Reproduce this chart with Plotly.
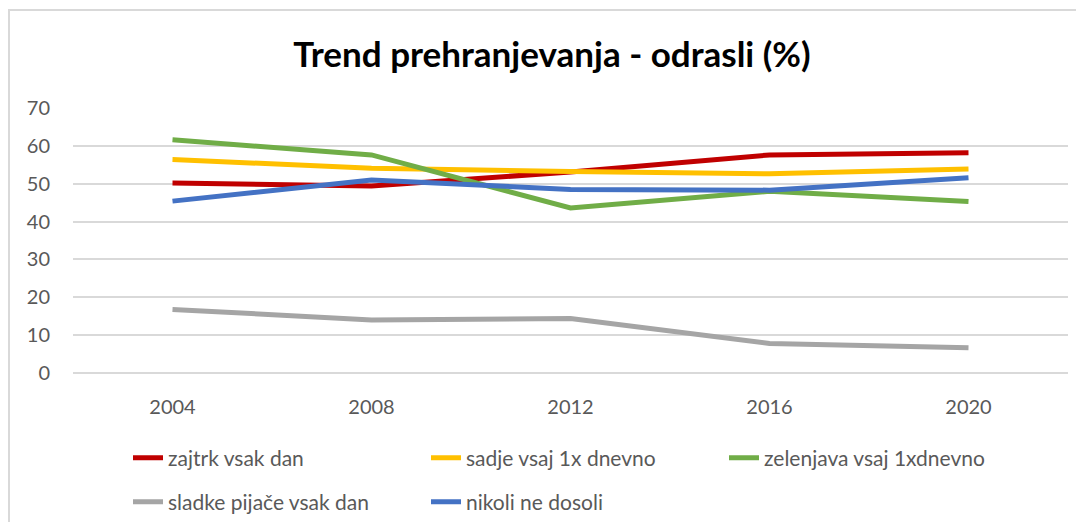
import plotly.graph_objects as go

years = ["2004", "2008", "2012", "2016", "2020"]
zajtrk = [50.2, 49.4, 53.1, 57.6, 58.2]
sadje = [56.4, 54.1, 53.2, 52.6, 53.9]
zelenjava = [61.6, 57.6, 43.6, 48.0, 45.3]
sladke = [16.8, 14.0, 14.4, 7.8, 6.7]
dosoli = [45.4, 51.0, 48.5, 48.3, 51.6]

names = ["zajtrk vsak dan", "sadje vsaj 1x dnevno", "zelenjava vsaj 1xdnevno",
         "sladke pijače vsak dan", "nikoli ne dosoli"]
colors = ["#C00000", "#FFC000", "#70AD47", "#A5A5A5", "#4472C4"]
series = [zajtrk, sadje, zelenjava, sladke, dosoli]
legends = ["legend", "legend", "legend", "legend2", "legend2"]

# page body has an 8px default margin; size the figure so the page fits the window
OFF = 8
W, H = 1084 - 2 * OFF, 530 - 2 * OFF
L, R, T, B = 73 - OFF, 1084 - OFF - 1068, 108 - OFF, H - (373 - OFF)

fig = go.Figure()
for nm, col, vals, lg in zip(names, colors, series, legends):
    fig.add_trace(go.Scatter(x=years, y=vals, name=nm, mode="lines",
                             line=dict(color=col, width=5), legend=lg))

font_fam = "Lato, 'Open Sans', sans-serif"
pw = W - L - R
ph = H - T - B

def px_to_paper_x(px):
    return (px - OFF - L) / pw

def px_to_paper_y(py):
    return (H - B - (py - OFF)) / ph

def px_to_cont_y(py):
    return 1 - (py - OFF) / H

legend_common = dict(orientation="h", xanchor="left", yanchor="middle",
                     yref="container",
                     entrywidth=253, entrywidthmode="pixels",
                     font=dict(family=font_fam, size=21, color="#595959"),
                     bgcolor="rgba(0,0,0,0)", itemwidth=30)

fig.update_layout(
    width=W, height=H,
    margin=dict(l=L, r=R, t=T, b=B, autoexpand=False),
    paper_bgcolor="white", plot_bgcolor="white",
    title=dict(text="<b>Trend prehranjevanja - odrasli (%)</b>",
               x=(552 - OFF) / W, xanchor="center", xref="container",
               y=1 - (55 - OFF) / H, yanchor="middle", yref="container",
               font=dict(family=font_fam, size=35, color="black")),
    xaxis=dict(type="category", range=[-0.5, 4.5], showgrid=False, showline=False,
               zeroline=False, automargin=False,
               ticks="", tickfont=dict(family=font_fam, size=20, color="#595959"),
               ticklabelstandoff=20),
    yaxis=dict(range=[0, 70], dtick=10, showgrid=True, gridcolor="#D9D9D9", gridwidth=1.5,
               zeroline=True, zerolinecolor="#D9D9D9", zerolinewidth=1.5, showline=False,
               automargin=False,
               ticks="", tickfont=dict(family=font_fam, size=20, color="#595959"),
               ticklabelstandoff=22),
    legend=dict(x=px_to_paper_x(128), y=px_to_cont_y(458), **legend_common),
    legend2=dict(x=px_to_paper_x(128), y=px_to_cont_y(502), **legend_common),
    shapes=[dict(type="rect", xref="paper", yref="paper",
                 x0=px_to_paper_x(9), x1=px_to_paper_x(1200),
                 y0=px_to_paper_y(700), y1=px_to_paper_y(10),
                 line=dict(color="#D9D9D9", width=2), fillcolor="rgba(0,0,0,0)",
                 layer="below")],
)

fig.write_html("out.html")
